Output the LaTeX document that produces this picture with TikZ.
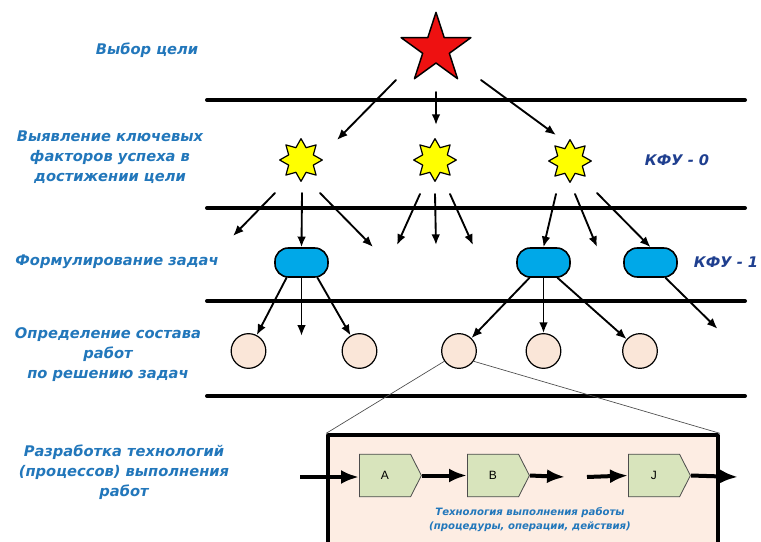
\documentclass[tikz,border=0pt]{standalone}
\usepackage{fontspec}
\setmainfont{DejaVu Sans}
\newfontfamily\opfont{Liberation Sans}
\usetikzlibrary{arrows.meta,positioning,calc,shapes.geometric,shapes.symbols}
\definecolor{labelblue}{HTML}{2277BB}
\definecolor{kfublue}{HTML}{1F3F8F}
\definecolor{goalred}{HTML}{EE1111}
\definecolor{ksfyellow}{HTML}{FFFF00}
\definecolor{taskblue}{HTML}{00A8E8}
\definecolor{workpeach}{HTML}{FAE6D8}
\definecolor{techpeach}{HTML}{FDEDE3}
\definecolor{opgreen}{HTML}{D8E4BC}

\begin{document}
\begin{tikzpicture}[
		x=0.75pt,
		y=-0.75pt,
		>=Latex,
		line cap=round,
		line join=round,
		levelline/.style={line width=3pt},
		thinarrow/.style={-{Latex[length=8pt,width=6.5pt]},line width=1.4pt},
		thickarrow/.style={-{Latex[length=13.5pt,width=10.5pt]},line width=3pt,line cap=butt},
		zoomline/.style={gray!60!black,line width=0.5pt},
		goalstar/.style={star,star points=5,star point ratio=2.618,fill=goalred,draw=black,line width=1.1pt,inner sep=0pt,minimum size=55pt},
		ksfstar/.style={star,star points=8,star point ratio=1.6,fill=ksfyellow,draw=black,line width=0.9pt,inner sep=0pt,minimum size=32pt},
		taskbox/.style={rectangle,rounded corners=10pt,fill=taskblue,draw=black,line width=1.2pt,minimum width=39.75pt,minimum height=21.75pt},
		workcircle/.style={circle,fill=workpeach,draw=black,line width=0.9pt,minimum size=26pt,inner sep=0pt},
		opshape/.style={signal,signal to=east,signal pointer angle=126,fill=opgreen,draw=gray!60!black,line width=0.6pt,minimum width=46.5pt,minimum height=32pt,inner sep=0pt,anchor=west,font=\opfont\small},
		levellabel/.style={font=\bfseries\itshape\fontsize{11}{15}\selectfont,text=labelblue,align=center},
		kfulabel/.style={font=\bfseries\itshape\fontsize{11}{15}\selectfont,text=kfublue},
		techlabel/.style={font=\bfseries\itshape\fontsize{7.6}{11}\selectfont,text=labelblue,align=center}
	]
	
	% Frame of the picture
	\useasboundingbox (0,0) rectangle (761,542);
	\clip (0,0) rectangle (761,542);
	\fill[white] (0,0) rectangle (761,542);
	
	% Level separators
	\foreach \ly in {100,208,301,396}
	\draw[levelline] (207,\ly) -- (745,\ly);
	
	% Level captions
	\node[levellabel] at (147,50) {Выбор цели};
	\node[levellabel] at (110,157) {Выявление ключевых\\факторов успеха в\\достижении цели};
	\node[levellabel] at (117,262) {Формулирование задач};
	\node[levellabel] at (108,355) {Определение состава\\работ\\по решению задач};
	\node[levellabel] at (124,472) {Разработка технологий\\(процессов) выполнения\\работ};
	
	\node[kfulabel] (kfu0) at (677,160) {КФУ - 0};
	\node[kfulabel] (kfu1) at (726,262) {КФУ - 1};
	
	% Goal and key success factors
	\node[goalstar] (goal) at (436,49) {};
	\node[ksfstar] (ksf1) at (301,160) {};
	\node[ksfstar] (ksf2) at (435,160) {};
	\node[ksfstar] (ksf3) at (570,161) {};
	
	% Tasks
	\node[taskbox] (task1) at (301.5,262.5) {};
	\node[taskbox] (task2) at (543.5,262.5) {};
	\node[taskbox] (task3) at (650.5,262.5) {};
	
	% Works
	\node[workcircle] (work1) at (248.5,351) {};
	\node[workcircle] (work2) at (359.5,351) {};
	\node[workcircle] (work3) at (459,351) {};
	\node[workcircle] (work4) at (543.5,351) {};
	\node[workcircle] (work5) at (640,351) {};
	
	% Goal -> factors
	\draw[thinarrow] ($(goal)+(-40,31)$) -- ($(ksf1)+(36,-20)$);
	\draw[thinarrow] ($(goal)+(0,43)$) -- ($(ksf2)+(1,-35)$);
	\draw[thinarrow] ($(goal)+(45,31)$) -- ($(ksf3)+(-14,-26)$);
	
	% Factors -> tasks
	\draw[thinarrow] ($(ksf1)+(-26,33)$) -- ($(ksf1)+(-68,76)$);
	\draw[thinarrow] ($(ksf1)+(1,33)$) -- (task1.north);
	\draw[thinarrow] ($(ksf1)+(19,33)$) -- ($(ksf1)+(72,87)$);
	
	\draw[thinarrow] ($(ksf2)+(-15,34)$) -- ($(ksf2)+(-38,85)$);
	\draw[thinarrow] ($(ksf2)+(0,34)$) -- ($(ksf2)+(1,85)$);
	\draw[thinarrow] ($(ksf2)+(15,34)$) -- ($(ksf2)+(38,85)$);
	
	\draw[thinarrow] ($(ksf3)+(-14,33)$) -- (task2.north);
	\draw[thinarrow] ($(ksf3)+(5,33)$) -- ($(ksf3)+(27,86)$);
	\draw[thinarrow] ($(ksf3)+(27,32)$) -- (task3.north);
	
	% Tasks -> works
	\draw[thinarrow] ($(task1.south)+(-15,0)$) -- (work1);
	\draw[thinarrow] (task1.south) -- ($(task1.south)+(0,58)$);
	\draw[thinarrow] ($(task1.south)+(16,0)$) -- (work2);
	
	\draw[thinarrow] ($(task2.south)+(-14,0)$) -- (work3);
	\draw[thinarrow] (task2.south) -- (work4);
	\draw[thinarrow] ($(task2.south)+(14,0)$) -- (work5);
	
	\draw[thinarrow] ($(task3.south)+(15,0)$) -- ($(task3.south)+(67,51)$);
	
	% Technology of one work
	\node[draw=black,line width=2.6pt,fill=techpeach,minimum width=292.5pt,minimum height=97.5pt,inner sep=0pt] (tech) at (523,500) {};
	\draw[zoomline] (work3.215) -- (tech.north west);
	\draw[zoomline] (work3.325) -- (tech.north east);
	
	\node[opshape] (opA) at (359,475.5) {A};
	\node[opshape] (opB) at (467,475.5) {B};
	\node[opshape] (opJ) at (628,475.5) {J};
	
	\coordinate (techin) at (300,477);
	\coordinate (gapleft) at (565,477);
	\coordinate (gapright) at (587,477);
	\coordinate (techout) at (738,477);
	
	\draw[thickarrow] (techin) -- (techin -| opA.west);
	\draw[thickarrow] (opA.east) -- (opB.west);
	\draw[thickarrow] (opB.east) -- (gapleft);
	\draw[thickarrow] (gapright) -- (opJ.west);
	\draw[thickarrow] (opJ.east) -- (techout);
	
	\node[techlabel] at (530,519.5) {Технология выполнения работы\\(процедуры, операции, действия)};
	
\end{tikzpicture}
\end{document}
